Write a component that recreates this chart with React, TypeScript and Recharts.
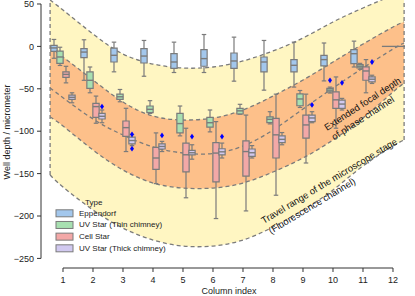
import React from 'react';
import {
  ComposedChart,
  XAxis,
  YAxis,
  Area,
  Scatter,
  ReferenceArea,
  ReferenceLine,
  ReferenceDot,
  Legend,
} from 'recharts';

// ---------- data ----------
const COLUMNS = [1, 2, 3, 4, 5, 6, 7, 8, 9, 10, 11];
const X_TICKS = [1, 2, 3, 4, 5, 6, 7, 8, 9, 10, 11, 12];
const Y_TICKS = [-250, -200, -150, -100, -50, 0, 50];

const TYPES = ['Eppendorf', 'UV Star (Thin chimney)', 'Cell Star', 'UV Star (Thick chimney)'];
const TYPE_FILLS = ['#a3c7ec', '#a8e0b1', '#f3a8a7', '#d1c9f0'];
const TYPE_SLOTS = [-0.3, -0.1, 0.1, 0.3];

// [min, q1, median, q3, max] for columns 1..11
const EPPENDORF = [
  [-14, -5.9, -1.8, 1.2, 8.2],
  [-40, -13.2, -6.7, -2.7, 7.8],
  [-30, -18.4, -10.5, -2, 5],
  [-35.2, -19.6, -11.4, -2.7, 7],
  [-30.8, -26, -18.4, -8.6, 5],
  [-30.8, -23.4, -14.4, -3.9, 14],
  [-41, -26, -17.2, -7.8, 10.9],
  [-51.6, -30, -18.4, -12.5, 7],
  [-48, -30, -22.3, -15.6, 5],
  [-40.7, -23, -15.6, -10.5, 4],
  [-24.3, -20.3, -8.6, -3.9, 6.2],
];
const UV_THIN = [
  [-22.5, -20, -12.5, -5.5, -1],
  [-54.7, -49.6, -40, -30, -24.3],
  [-65.3, -62.5, -59.4, -56.3, -50.8],
  [-79, -78, -74.2, -70.3, -64],
  [-105.5, -102, -91, -79, -70.3],
  [-100.8, -95.3, -90, -83.6, -75],
  [-80, -79.7, -76, -73, -68.3],
  [-91.4, -90, -86, -83, -77],
  [-72, -70, -62, -56, -52],
  [-55, -53.6, -51.6, -49.6, -48],
  [-27, -25.4, -23.4, -21.5, -20],
];
const CELL_STAR = [
  [-43, -36.5, -33, -30, -23.5],
  [-90.6, -83.6, -71, -67.2, -58.6],
  [-124, -106, -95.8, -88, -73],
  [-161.8, -145, -131.6, -119, -102],
  [-178.5, -148, -127.8, -114, -96.5],
  [-203, -159.8, -125.8, -113.4, -88.7],
  [-194, -153, -124, -111.4, -81],
  [-175.5, -131.6, -104.3, -84.8, -56.3],
  [-137.5, -108.2, -92.6, -81, -56.3],
  [-96.5, -73, -63, -53.6, -36],
  [-54.7, -39.9, -29, -24.2, -15.6],
];
const UV_THICK = [
  [-66.5, -62.5, -60, -57.4, -54.7],
  [-90, -85.6, -82.4, -79, -75],
  [-117, -115, -111, -107, -104],
  [-124, -121, -118, -115, -112],
  [-133, -128, -125.4, -122.7, -116],
  [-131.6, -127.8, -124.3, -120.7, -114],
  [-131.6, -129.8, -125.4, -121, -117],
  [-116, -113.4, -109.6, -105.5, -101.6],
  [-90, -88.7, -84.4, -81, -77],
  [-75, -73, -68, -63.3, -61.3],
  [-43.7, -41.8, -38.7, -36, -34],
];
const SERIES = [EPPENDORF, UV_THIN, CELL_STAR, UV_THICK];

// column 12 reference level
const COL12_LEVEL = 0;
const COL12_FROM = 11.63;
const COL12_TO = 12.4;

// blue diamond markers
const MARK_COLUMNS = [2, 3, 3, 4, 5, 6, 9, 10, 10, 11];
const MARK_SLOTS = [3, 3, 3, 3, 3, 3, 3, 1, 3, 3];
const MARK_VALUES = [-71, -103.7, -120.6, -105, -106.3, -106.3, -69, -40, -43, -18.4];

// band curves
const CURVE_X = [0.57, 1, 2, 3, 4, 5, 6, 7, 8, 9, 10, 11, 12, 12.37];
const TRAVEL_TOP = [54.7, 42.9, 14.6, -9.0, -20.8, -25.5, -24.3, -17.2, -5.4, 9.9, 28.8, 45.3, 60.6, 66.5];
const FOCAL_TOP = [-0.7, -12.5, -39.6, -65.6, -82.1, -86.8, -84.4, -75.0, -58.5, -39.6, -18.4, 2.8, 22.9, 28.8];
const FOCAL_MID = [-49, -60.5, -85.6, -104.5, -118.6, -125.7, -126.3, -117.5, -98.6, -73.8, -49.1, -25.5, -3.1, 4.0];
const FOCAL_BOTTOM = [-83.3, -93.9, -122.2, -145.8, -161.1, -167.0, -167.0, -161.1, -148.1, -131.6, -110.4, -84.4, -53.8, -43.2];
const TRAVEL_BOTTOM = [-151.7, -165.8, -192.9, -214.2, -228.3, -235.4, -235.4, -228.3, -213.0, -192.9, -169.3, -141.0, -117.5, -110.4];

// ---------- styling ----------
const FONT = '"Liberation Sans", Arial, Helvetica, sans-serif';
const GRAY = '#7b7b7b';
const DASH = '4 3';
const AXIS = '#333333';
const BOX_HALF = 0.105;
const CAP_HALF = 0.075;
const X_DOMAIN: [number, number] = [0.2667, 12.6];
const Y_DOMAIN: [number, number] = [-261.3, 54.7];

const curveData = CURVE_X.map((x, i) => ({
  x,
  travel: [TRAVEL_BOTTOM[i], TRAVEL_TOP[i]],
  focal: [FOCAL_BOTTOM[i], FOCAL_TOP[i]],
  mid: FOCAL_MID[i],
}));

const markData = MARK_COLUMNS.map((c, i) => ({
  x: c + TYPE_SLOTS[MARK_SLOTS[i]],
  y: MARK_VALUES[i],
}));

const fmt = (v: number) => (v < 0 ? '\u2212' + Math.abs(v) : String(v));

const Diamond = (p: any) => {
  const { cx, cy } = p;
  if (cx == null || cy == null) return null;
  return (
    <path
      d={`M${cx},${cy - 2.9} L${cx + 2},${cy} L${cx},${cy + 2.9} L${cx - 2},${cy} Z`}
      fill="#0000ff"
    />
  );
};

const legendContent = () => (
  <svg width={130} height={60} style={{ display: 'block', overflow: 'visible' }}>
    <text x={33} y={6.7} fontSize={8} fontFamily={FONT} fill="#222" dominantBaseline="central">
      Type
    </text>
    {TYPES.map((t, i) => (
      <g key={t}>
        <rect x={4} y={17.3 + i * 11.67 - 3.5} width={17} height={7} fill={TYPE_FILLS[i]} stroke={GRAY} strokeWidth={1} />
        <text x={27} y={17.3 + i * 11.67} fontSize={8} fontFamily={FONT} fill="#222" dominantBaseline="central">
          {t}
        </text>
      </g>
    ))}
  </svg>
);

const makeRotatedText = (lines: string[], angle: number, gap: number, indent: number) => (p: any) => {
  const { cx, cy } = p;
  if (cx == null || cy == null) return null;
  return (
    <g transform={`translate(${cx},${cy}) rotate(${angle})`}>
      {lines.map((l, i) => (
        <text
          key={l}
          x={i * indent}
          y={i * gap}
          fontSize={9.5}
          fontFamily={FONT}
          fill="#111"
          dominantBaseline="central"
        >
          {l}
        </text>
      ))}
    </g>
  );
};

const FocalLabel = makeRotatedText(['Extended focal depth', 'of phase channel'], -33, 12, 1);
const TravelLabel = makeRotatedText(['Travel range of the microscope stage', '(Fluorescence channel)'], -31, 12.5, 1);

function renderBoxes() {
  const out: any[] = [];
  SERIES.forEach((rows, t) => {
    rows.forEach((r, i) => {
      const xc = COLUMNS[i] + TYPE_SLOTS[t];
      const [mn, q1, md, q3, mx] = r;
      const k = `${t}-${i}`;
      out.push(
        <ReferenceLine key={'wu' + k} segment={[{ x: xc, y: q3 }, { x: xc, y: mx }]} stroke={GRAY} strokeWidth={1.2} ifOverflow="visible" />,
        <ReferenceLine key={'wl' + k} segment={[{ x: xc, y: mn }, { x: xc, y: q1 }]} stroke={GRAY} strokeWidth={1.2} ifOverflow="visible" />,
        <ReferenceLine key={'cu' + k} segment={[{ x: xc - CAP_HALF, y: mx }, { x: xc + CAP_HALF, y: mx }]} stroke={GRAY} strokeWidth={1.2} ifOverflow="visible" />,
        <ReferenceLine key={'cl' + k} segment={[{ x: xc - CAP_HALF, y: mn }, { x: xc + CAP_HALF, y: mn }]} stroke={GRAY} strokeWidth={1.2} ifOverflow="visible" />,
        <ReferenceArea key={'b' + k} x1={xc - BOX_HALF} x2={xc + BOX_HALF} y1={q1} y2={q3} fill={TYPE_FILLS[t]} fillOpacity={1} stroke={GRAY} strokeWidth={1.2} ifOverflow="visible" />,
        <ReferenceLine key={'m' + k} segment={[{ x: xc - BOX_HALF, y: md }, { x: xc + BOX_HALF, y: md }]} stroke={GRAY} strokeWidth={1.4} ifOverflow="visible" />
      );
    });
  });
  return out;
}

export default function App() {
  return (
    <div style={{ position: 'absolute', left: 0, top: 0, width: 415, height: 296, background: '#fff' }}>
      <ComposedChart
        width={415}
        height={296}
        data={curveData}
        margin={{ top: 0, right: 4, bottom: 0, left: 0 }}
        style={{ fontFamily: FONT }}
      >
        <XAxis
          dataKey="x"
          type="number"
          domain={X_DOMAIN}
          allowDataOverflow
          ticks={X_TICKS}
          interval={0}
          height={28}
          axisLine={false}
          tickLine={{ stroke: AXIS }}
          tickSize={4}
          tickMargin={5}
          tick={{ fontSize: 9, fill: '#222', fontFamily: FONT }}
          label={{ value: 'Column index', position: 'insideBottom', offset: 2, fontSize: 9, fill: '#222', dx: 3 }}
        />
        <YAxis
          type="number"
          domain={Y_DOMAIN}
          allowDataOverflow
          ticks={Y_TICKS}
          interval={0}
          width={41}
          axisLine={false}
          tickLine={{ stroke: AXIS }}
          tickSize={4}
          tickMargin={3}
          tickFormatter={fmt}
          tick={{ fontSize: 9, fill: '#222', fontFamily: FONT }}
          label={{
            content: () => (
              <text
                transform="translate(7,132) rotate(-90)"
                textAnchor="middle"
                dominantBaseline="central"
                fontSize={9}
                fontFamily={FONT}
                fill="#222"
              >
                Well depth / micrometer
              </text>
            ),
          }}
        />
        <Area
          dataKey="travel"
          type="natural"
          fill="#fff6c2"
          fillOpacity={1}
          stroke={GRAY}
          strokeWidth={1.3}
          strokeDasharray={DASH}
          isAnimationActive={false}
          dot={false}
          activeDot={false}
        />
        <Area
          dataKey="focal"
          type="natural"
          fill="#fdc08a"
          fillOpacity={1}
          stroke={GRAY}
          strokeWidth={1.3}
          strokeDasharray={DASH}
          isAnimationActive={false}
          dot={false}
          activeDot={false}
        />
        <Area
          dataKey="mid"
          type="natural"
          fill="none"
          stroke={GRAY}
          strokeWidth={1.3}
          strokeDasharray={DASH}
          isAnimationActive={false}
          dot={false}
          activeDot={false}
        />
        <ReferenceLine
          segment={[{ x: CURVE_X[0], y: TRAVEL_BOTTOM[0] }, { x: CURVE_X[0], y: TRAVEL_TOP[0] }]}
          stroke={GRAY}
          strokeWidth={1.3}
          strokeDasharray={DASH}
          ifOverflow="hidden"
        />
        <ReferenceLine
          segment={[
            { x: CURVE_X[CURVE_X.length - 1], y: TRAVEL_BOTTOM[CURVE_X.length - 1] },
            { x: CURVE_X[CURVE_X.length - 1], y: TRAVEL_TOP[CURVE_X.length - 1] },
          ]}
          stroke={GRAY}
          strokeWidth={1.3}
          strokeDasharray={DASH}
          ifOverflow="hidden"
        />
        {renderBoxes()}
        <ReferenceLine
          segment={[{ x: COL12_FROM, y: COL12_LEVEL }, { x: COL12_TO, y: COL12_LEVEL }]}
          stroke={GRAY}
          strokeWidth={1.3}
          ifOverflow="visible"
        />
        <Scatter data={markData} dataKey="y" shape={Diamond} isAnimationActive={false} />
        <ReferenceLine
          segment={[{ x: X_DOMAIN[0], y: Y_TICKS[0] }, { x: X_DOMAIN[0], y: Y_TICKS[Y_TICKS.length - 1] }]}
          stroke={AXIS}
          strokeWidth={1}
          ifOverflow="visible"
        />
        <ReferenceLine
          segment={[{ x: X_TICKS[0], y: Y_DOMAIN[0] }, { x: X_TICKS[X_TICKS.length - 1], y: Y_DOMAIN[0] }]}
          stroke={AXIS}
          strokeWidth={1}
          ifOverflow="visible"
        />
        <ReferenceDot x={9.733} y={-96.2} r={0} shape={FocalLabel} ifOverflow="visible" />
        <ReferenceDot x={7.633} y={-205.9} r={0} shape={TravelLabel} ifOverflow="visible" />
        <Legend
          layout="vertical"
          align="center"
          verticalAlign="middle"
          wrapperStyle={{ left: 52, top: 196, width: 130, height: 60 }}
          content={legendContent}
        />
      </ComposedChart>
    </div>
  );
}
